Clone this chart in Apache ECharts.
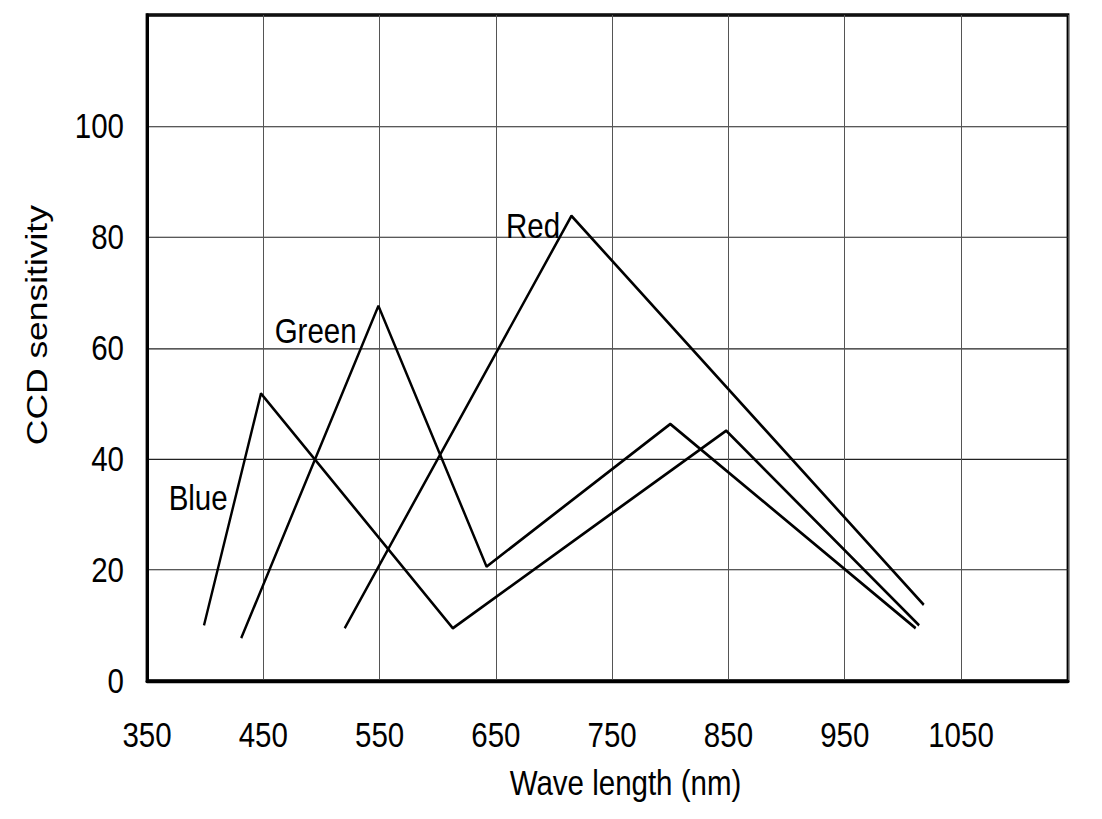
<!DOCTYPE html>
<html><head><meta charset="utf-8">
<script src="https://cdn.jsdelivr.net/npm/echarts@6/dist/echarts.min.js"></script>
<style>
html,body{margin:0;padding:0;background:#fff;width:1102px;height:819px;overflow:hidden}
#c{width:1102px;height:682px;transform:scaleY(1.2009);transform-origin:0 0}
</style>
</head><body><div id="c"></div>
<script>
// Tick values
const xTicks = [350, 450, 550, 650, 750, 850, 950, 1050];
const yTicks = [0, 20, 40, 60, 80, 100];
// Series [wavelength nm, sensitivity]
const blueData  = [[399, 10.0], [448, 51.8], [613, 9.5], [848, 45.1], [1014, 10.0]];
const greenData = [[431, 7.7], [549, 67.6], [642, 20.6], [800, 46.3], [1011, 9.5]];
const redData   = [[520, 9.5], [715, 83.8], [1018, 13.7]];
const seriesNames = ['Blue', 'Green', 'Red'];
// Where each curve's name label sits (data coordinates)
const labelCoords = [[394, 33.0], [495, 63.2], [682, 82.0]];

const FONT = "'Liberation Sans', Arial, sans-serif";
const FS = 29.5;

const chart = echarts.init(document.getElementById('c'), null, {renderer: 'svg'});
const datas = [blueData, greenData, redData];

chart.setOption({
  backgroundColor: '#fff',
  animation: false,
  grid: {left: 147, right: 34, top: 12.5, bottom: 115, show: true,
         borderColor: '#000', borderWidth: 2.8, backgroundColor: 'transparent'},
  xAxis: {
    type: 'value', min: xTicks[0], max: 1142, interval: 100,
    name: 'Wave length (nm)', nameLocation: 'middle', nameGap: 70,
    nameTextStyle: {fontFamily: FONT, fontSize: FS, color: '#000', padding: [0, 0, 0, 36]},
    axisLine: {show: true, onZero: false, lineStyle: {color: '#000', width: 2.8}},
    axisTick: {show: false},
    axisLabel: {fontFamily: FONT, fontSize: FS, color: '#000', margin: 30, showMaxLabel: false,
      formatter: v => xTicks.indexOf(v) >= 0 ? String(v) : ''},
    splitLine: {show: true, lineStyle: {color: '#555', width: 1}}
  },
  yAxis: {
    type: 'value', min: 0, max: 120, interval: 20,
    name: 'CCD sensitivity', nameLocation: 'middle', nameGap: 95, nameRotate: 90,
    nameTextStyle: {fontFamily: FONT, fontSize: FS, color: '#000', padding: [0, 0, 0, 38]},
    axisLine: {show: true, lineStyle: {color: '#000', width: 3}},
    axisTick: {show: false},
    axisLabel: {fontFamily: FONT, fontSize: FS, color: '#000', margin: 23, showMaxLabel: false,
      formatter: v => yTicks.indexOf(v) >= 0 ? String(v) : ''},
    splitLine: {show: true, lineStyle: {color: '#222', width: 0.9}}
  },
  series: datas.map((d, i) => ({
    name: seriesNames[i], type: 'line', data: d, symbol: 'none',
    lineStyle: {color: '#000', width: 2.4}, z: 3,
    markPoint: {
      silent: true, symbol: 'circle', symbolSize: 0,
      data: [{coord: labelCoords[i], name: seriesNames[i]}],
      label: {show: true, position: 'inside', formatter: seriesNames[i],
        fontFamily: FONT, fontSize: FS, color: '#000'}
    }
  }))
});
</script></body></html>
